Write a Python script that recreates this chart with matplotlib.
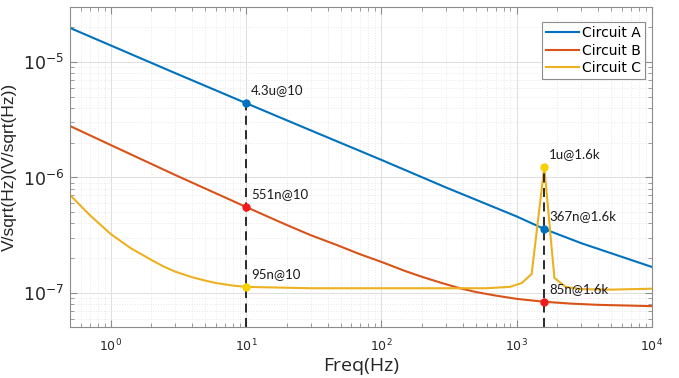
"""Noise spectral density comparison of three circuits (log-log)."""

import matplotlib

matplotlib.use("Agg")
import matplotlib.pyplot as plt
from matplotlib.ticker import LogLocator, NullFormatter

# Circuit A
FREQ_A = [0.5, 1, 3, 10, 30, 100, 300, 1000, 1600, 3000, 10000]
NOISE_A = [1.97e-5, 1.39e-5, 8.0e-6, 4.4e-6, 2.56e-6, 1.42e-6, 8.2e-7,
           4.6e-7, 3.58e-7, 2.7e-7, 1.68e-7]

# Circuit B
FREQ_B = [0.5, 1, 3, 10, 15, 20, 30, 47, 70, 100, 150, 200, 280, 380, 500,
          700, 1000, 1600, 2500, 4000, 10000]
NOISE_B = [2.79e-6, 1.91e-6, 1.05e-6, 5.56e-7, 4.5e-7, 3.88e-7, 3.17e-7,
           2.6e-7, 2.16e-7, 1.86e-7, 1.55e-7, 1.38e-7, 1.22e-7, 1.1e-7,
           1.02e-7, 9.5e-8, 8.9e-8, 8.4e-8, 8.1e-8, 7.9e-8, 7.7e-8]

# Circuit C (resonance peak near 1.6 kHz)
FREQ_C = [0.5, 0.7, 1, 1.4, 2, 2.5, 3, 4, 5, 6, 8, 10, 30, 100, 300, 600,
          890, 1090, 1290, 1600, 1900, 2300, 3000, 5000, 10000]
NOISE_C = [7.06e-7, 4.73e-7, 3.24e-7, 2.45e-7, 1.93e-7, 1.68e-7, 1.53e-7,
           1.37e-7, 1.28e-7, 1.22e-7, 1.16e-7, 1.13e-7, 1.1e-7, 1.1e-7,
           1.1e-7, 1.1e-7, 1.13e-7, 1.22e-7, 1.46e-7, 1.23e-6, 1.35e-7,
           1.13e-7, 1.08e-7, 1.07e-7, 1.09e-7]

SERIES_NAMES = ["Circuit A", "Circuit B", "Circuit C"]

# Marked points: (freq, value, label)
MARK_FREQ = [10, 10, 10, 1600, 1600, 1600]
MARK_VALUE = [4.4e-6, 5.56e-7, 1.13e-7, 1.23e-6, 3.58e-7, 8.36e-8]
MARK_TEXT = ["4.3u@10", "551n@10", "95n@10", "1u@1.6k", "367n@1.6k", "85n@1.6k"]
MARK_COLOR = ["#0072BD", "#f01c1c", "#f8d000", "#f8d000", "#0072BD", "#f01c1c"]

LINE_COLORS = ["#0072BD", "#D95319", "#EDB120"]
YLIM = (5.08e-8, 2.99e-5)
XLIM = (0.5, 1e4)


def main() -> None:
    fig = plt.figure(figsize=(6.79, 3.78), dpi=100)
    ax = fig.add_axes([70 / 679, 1 - 327 / 378, 582 / 679, 320 / 378])

    for f, v, name, c in zip([FREQ_A, FREQ_B, FREQ_C],
                             [NOISE_A, NOISE_B, NOISE_C],
                             SERIES_NAMES, LINE_COLORS):
        ax.plot(f, v, color=c, linewidth=1.5, label=name, zorder=2)

    ax.set_xscale("log")
    ax.set_yscale("log")
    ax.set_xlim(*XLIM)
    ax.set_ylim(*YLIM)

    # Dashed markers from the highest mark at each frequency down to the axis
    for fx in sorted(set(MARK_FREQ)):
        top = max(v for f, v in zip(MARK_FREQ, MARK_VALUE) if f == fx)
        ax.vlines(fx, YLIM[0], top, colors="#1a1a1a", linestyles=(0, (5, 3)),
                  linewidth=1.3, zorder=3)

    for f, v, t, c in zip(MARK_FREQ, MARK_VALUE, MARK_TEXT, MARK_COLOR):
        ax.plot(f, v, "o", color=c, markersize=5, zorder=4)
        ax.annotate(t, (f, v), xytext=(5, 7), textcoords="offset pixels",
                    fontsize=9.5, family="Lato", color="#1a1a1a",
                    ha="left", va="bottom", zorder=5)

    ax.xaxis.set_major_locator(LogLocator(base=10, numticks=10))
    ax.xaxis.set_minor_locator(LogLocator(base=10, subs=range(2, 10), numticks=20))
    ax.xaxis.set_minor_formatter(NullFormatter())
    ax.yaxis.set_minor_locator(LogLocator(base=10, subs=range(2, 10), numticks=20))
    ax.yaxis.set_minor_formatter(NullFormatter())

    ax.grid(True, which="major", color="#dedede", linewidth=0.7)
    ax.grid(True, which="minor", color="#e8e8e8", linestyle=":", linewidth=0.7)
    ax.set_axisbelow(True)

    ax.tick_params(which="both", direction="in", top=True, right=True,
                   colors="#8c8c8c", labelcolor="#262626")
    ax.tick_params(which="major", length=5)
    ax.tick_params(which="minor", length=3)
    ax.tick_params(axis="x", labelsize=9, pad=8)
    ax.tick_params(axis="y", labelsize=12.5, pad=4)
    for s in ax.spines.values():
        s.set_color("#8c8c8c")
        s.set_linewidth(0.8)

    ax.set_xlabel("Freq(Hz)", fontsize=14, family="Open Sans", color="#262626",
                  labelpad=2)
    ax.set_ylabel("V/sqrt(Hz)(V/sqrt(Hz))", fontsize=12.5,
                  family="Liberation Sans", color="#262626", labelpad=4)

    leg = ax.legend(loc="upper right", bbox_to_anchor=(1 - 7 / 582, 1 - 15 / 320),
                    borderaxespad=0, fontsize=10, fancybox=False,
                    handlelength=2.4, handletextpad=0.2, borderpad=0.3,
                    labelspacing=0.25, framealpha=1)
    leg.get_frame().set_edgecolor("#8c8c8c")
    leg.get_frame().set_linewidth(0.8)

    fig.savefig("out.png", dpi=100)
    plt.close(fig)


if __name__ == "__main__":
    main()
